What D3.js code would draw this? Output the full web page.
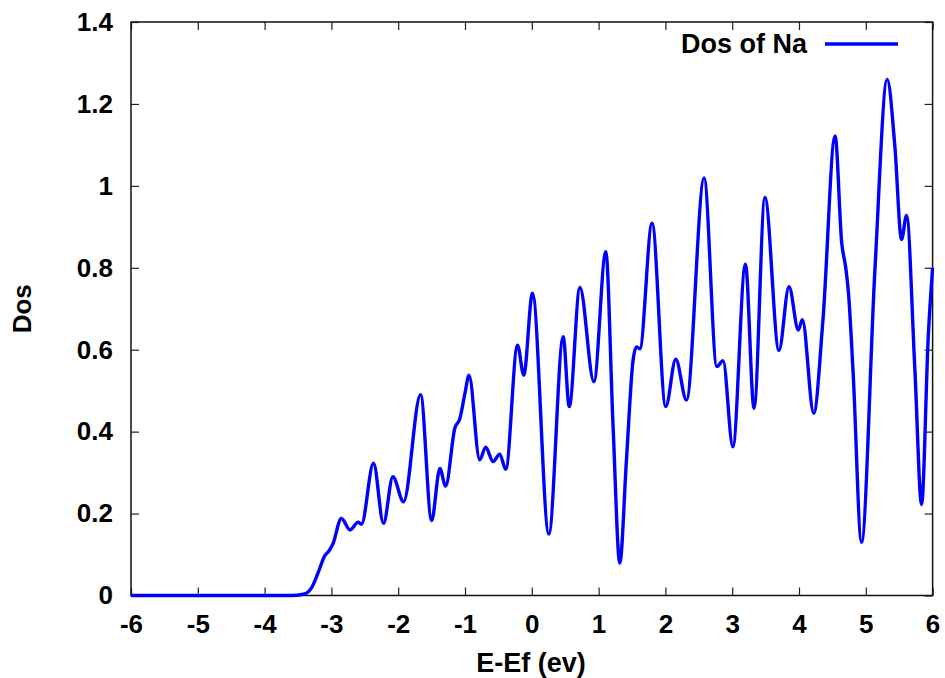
<!DOCTYPE html>
<html>
<head>
<meta charset="utf-8">
<script src="https://cdn.jsdelivr.net/npm/d3@7"></script>
<style>
  body { margin: 0; background: #fff; }
  svg text { font-family: "Liberation Sans", Arial, sans-serif; font-weight: bold; fill: #000; }
</style>
</head>
<body>
<svg id="chart" width="945" height="678"></svg>
<script>
// Density of states of Na versus energy relative to the Fermi level
const energy = [
  -6, -3.6, -3.42, -3.3, -3.2, -3.1, -3.04, -2.98, -2.85, -2.72, -2.6, -2.55,
  -2.37, -2.22, -2.08, -1.92, -1.665, -1.5, -1.376, -1.29, -1.15, -1.08, -1.0, -0.94,
  -0.78, -0.69, -0.58, -0.48, -0.39, -0.214, -0.12, 0.01, 0.255, 0.47, 0.56, 0.72,
  0.93, 1.108, 1.217, 1.317, 1.417, 1.516, 1.567, 1.617, 1.80, 2.005, 2.155, 2.315,
  2.579, 2.77, 2.863, 3.01, 3.198, 3.327, 3.49, 3.70, 3.85, 3.99, 4.05, 4.22,
  4.36, 4.54, 4.64, 4.70, 4.74, 4.81, 4.935, 5.135, 5.32, 5.435, 5.535, 5.61,
  5.735, 5.835, 5.935, 6.0
];
const dos = [
  0, 0, 0.003, 0.018, 0.055, 0.097, 0.108, 0.125, 0.188, 0.16, 0.179, 0.174,
  0.323, 0.176, 0.29, 0.229, 0.49, 0.183, 0.31, 0.267, 0.41, 0.43, 0.494, 0.538,
  0.331, 0.362, 0.327, 0.345, 0.308, 0.611, 0.538, 0.738, 0.15, 0.632, 0.461, 0.752,
  0.522, 0.839, 0.412, 0.079, 0.331, 0.575, 0.607, 0.602, 0.909, 0.461, 0.577, 0.477,
  1.019, 0.559, 0.573, 0.363, 0.809, 0.457, 0.972, 0.598, 0.754, 0.648, 0.673, 0.445,
  0.676, 1.122, 0.86, 0.80, 0.74, 0.545, 0.13, 0.79, 1.26, 1.097, 0.869, 0.928,
  0.55, 0.222, 0.632, 0.80
];
const xTicks = [-6, -5, -4, -3, -2, -1, 0, 1, 2, 3, 4, 5, 6];
const yTicks = [0, 0.2, 0.4, 0.6, 0.8, 1, 1.2, 1.4];
const seriesName = "Dos of Na";

const W = 945, H = 678;
const margin = { top: 22, right: 12.4, bottom: 82.5, left: 131 };
const innerW = W - margin.left - margin.right;
const innerH = H - margin.top - margin.bottom;
const FS = 26;      // tick labels
const FS_T = 27;    // titles and legend

const svg = d3.select("#chart");
const g = svg.append("g").attr("transform", `translate(${margin.left},${margin.top})`);

const x = d3.scaleLinear().domain([-6, 6]).range([0, innerW]);
const y = d3.scaleLinear().domain([0, 1.4]).range([innerH, 0]);

function styleAxis(sel) {
  sel.select(".domain").remove();
  sel.selectAll(".tick line").attr("stroke", "#222").attr("stroke-width", 1.2);
  sel.selectAll(".tick text").style("font-size", FS + "px").attr("fill", "#000");
}

// bottom axis with labels, ticks pointing inward
g.append("g").attr("transform", `translate(0,${innerH})`)
  .call(d3.axisBottom(x).tickValues(xTicks).tickSizeInner(-8).tickSizeOuter(0)
    .tickPadding(19).tickFormat(d => String(d)))
  .call(styleAxis);

// left axis with labels
g.append("g")
  .call(d3.axisLeft(y).tickValues(yTicks).tickSizeInner(-8).tickSizeOuter(0)
    .tickPadding(18).tickFormat(d => String(d)))
  .call(styleAxis);

// mirrored ticks on top and right
g.append("g")
  .call(d3.axisTop(x).tickValues(xTicks).tickSizeInner(-8).tickSizeOuter(0).tickFormat(""))
  .call(styleAxis);
g.append("g").attr("transform", `translate(${innerW},0)`)
  .call(d3.axisRight(y).tickValues(yTicks).tickSizeInner(-8).tickSizeOuter(0).tickFormat(""))
  .call(styleAxis);

// plot frame
g.append("rect")
  .attr("x", 0).attr("y", 0).attr("width", innerW).attr("height", innerH)
  .attr("fill", "none").attr("stroke", "#111").attr("stroke-width", 1.5);

// curve
const points = energy.map((e, i) => [e, dos[i]]);
const line = d3.line().x(d => x(d[0])).y(d => y(d[1])).curve(d3.curveMonotoneX);
g.append("path")
  .datum(points)
  .attr("d", line)
  .attr("fill", "none")
  .attr("stroke", "#0000ff")
  .attr("stroke-width", 3.4)
  .attr("stroke-linejoin", "round");

// legend
svg.append("text")
  .attr("x", 807).attr("y", 53)
  .attr("text-anchor", "end")
  .style("font-size", FS_T + "px")
  .text(seriesName);
svg.append("line")
  .attr("x1", 825).attr("x2", 898).attr("y1", 44).attr("y2", 44)
  .attr("stroke", "#0000ff").attr("stroke-width", 3.4);

// axis titles
svg.append("text")
  .attr("x", 531).attr("y", 672)
  .attr("text-anchor", "middle")
  .style("font-size", FS_T + "px")
  .text("E-Ef (ev)");
svg.append("text")
  .attr("transform", `translate(31,${margin.top + innerH / 2}) rotate(-90)`)
  .attr("text-anchor", "middle")
  .style("font-size", FS + "px")
  .text("Dos");
</script>
</body>
</html>
